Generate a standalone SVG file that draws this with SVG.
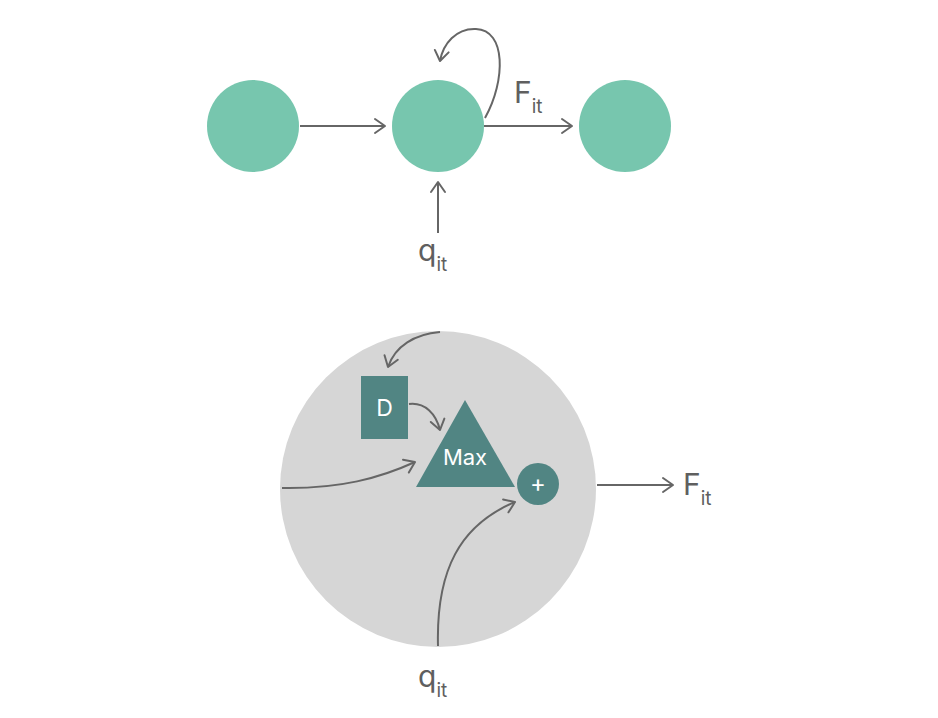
<svg xmlns="http://www.w3.org/2000/svg" width="938" height="718" viewBox="0 0 938 718">
<defs>
<marker id="ah" markerUnits="userSpaceOnUse" markerWidth="20" markerHeight="20" viewBox="-12 -10 14 20" refX="0" refY="0" orient="auto">
<path d="M-10,-7 L0,0 L-10,7" fill="none" stroke="#666666" stroke-width="2" stroke-linecap="round" stroke-linejoin="round"/>
</marker>
</defs>
<style>
.node{fill:#77c6ae}
.conn{fill:none;stroke:#666666;stroke-width:2;marker-end:url(#ah)}
.lbl{font-family:Inter,"Liberation Sans",sans-serif;fill:#5f5f5f}
.wt{font-family:Inter,"Liberation Sans",sans-serif;fill:#ffffff;text-anchor:middle}
.blk{fill:#518583}
</style>
<rect width="938" height="718" fill="#ffffff"/>
<g id="n1"><circle class="node" cx="253" cy="126" r="46"/></g>
<g id="n2"><circle class="node" cx="438" cy="126" r="46"/></g>
<g id="n3"><circle class="node" cx="625" cy="126" r="46"/></g>
<g id="cell"><circle cx="438" cy="489" r="158" fill="#d6d6d6"/></g>
<g id="delay"><rect class="blk" x="361" y="376" width="47" height="63"/><text class="wt" x="384.5" y="416" font-size="23">D</text></g>
<g id="max"><polygon class="blk" points="465,400 416,487 515,487"/><text class="wt" x="465" y="465" font-size="22">Max</text></g>
<g id="plus"><circle class="blk" cx="538" cy="484" r="21"/><text class="wt" x="538" y="492" font-size="24">+</text></g>
<g id="connectors">
<path class="conn" d="M300,126 L385,126"/>
<path class="conn" d="M484,126 L572,126"/>
<path class="conn" d="M485,118 C506,80 506,30 476,29 C456,28 443,44 440,61"/>
<path class="conn" d="M438,233 L438,182"/>
<path class="conn" d="M440,332 C415,334 395,346 388,367"/>
<path class="conn" d="M409,404 C425,402 436,414 440,430"/>
<path class="conn" d="M282,488 C340,489 380,478 415,462"/>
<path class="conn" d="M438,646 C436,570 460,525 515,502"/>
<path class="conn" d="M597,485 L673,485"/>
</g>
<g id="labels">
<text class="lbl" x="514" y="103" font-size="30">F<tspan font-size="19" dy="10">it</tspan></text>
<text class="lbl" x="418" y="261" font-size="30">q<tspan font-size="19" dy="10">it</tspan></text>
<text class="lbl" x="683" y="495" font-size="30">F<tspan font-size="19" dy="10">it</tspan></text>
<text class="lbl" x="418" y="687" font-size="30">q<tspan font-size="19" dy="10">it</tspan></text>
</g>
</svg>
